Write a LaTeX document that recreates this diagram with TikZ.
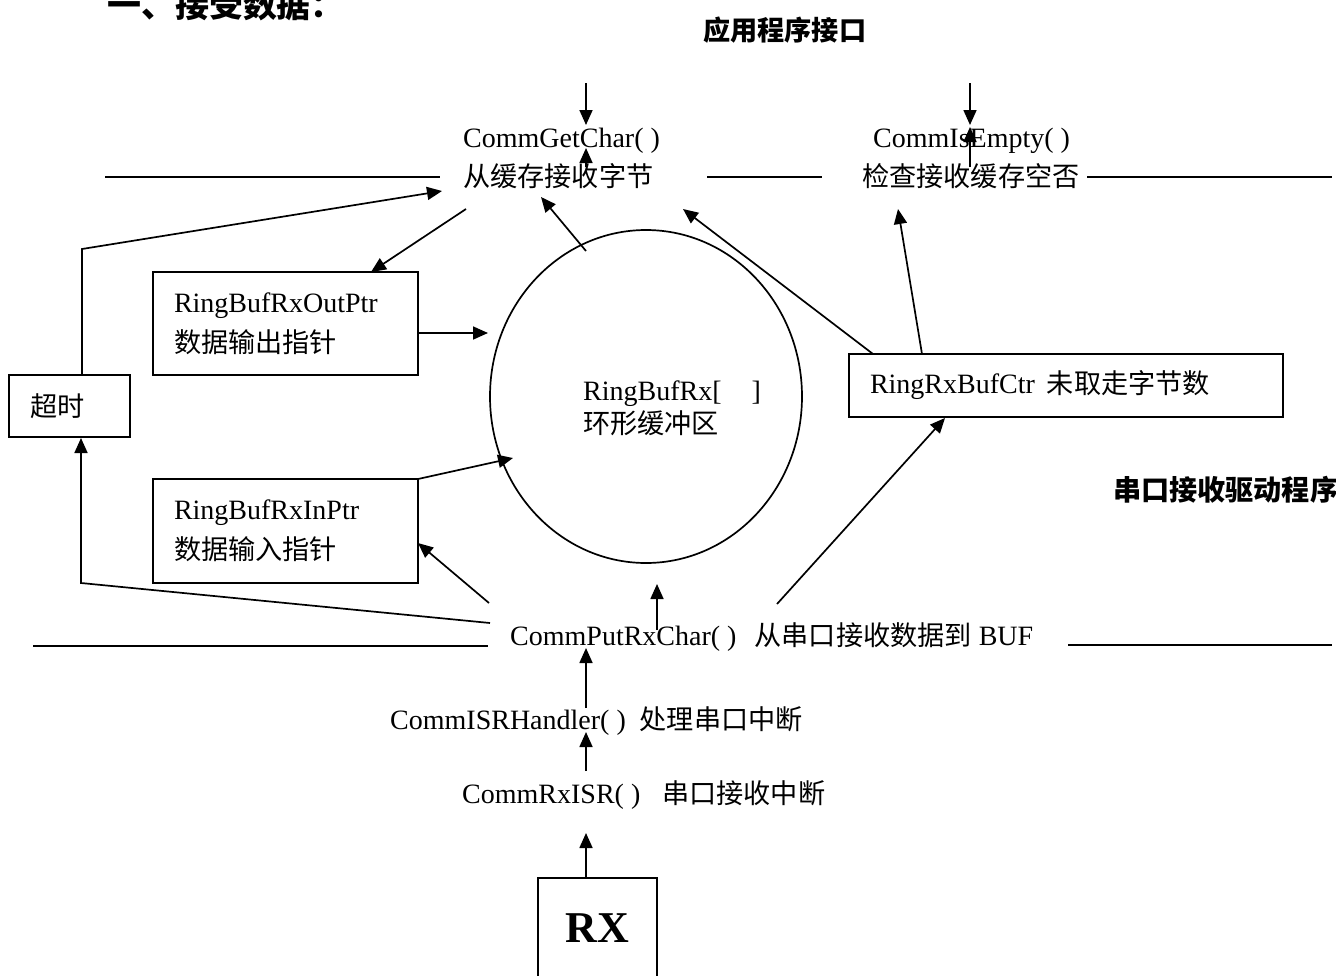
\documentclass[tikz,border=0pt]{standalone}
\usepackage{fontspec}
\setmainfont{Liberation Serif}
\newfontfamily\cjk[Scale=0.97]{Noto Sans CJK SC}
\usetikzlibrary{arrows.meta,shapes.geometric}
\begin{document}
\begin{tikzpicture}[x=1pt,y=-1pt,
  basefont/.style={font=\fontsize{28}{34}\selectfont, inner sep=0pt},
  txt/.style={basefont, anchor=base west},
  box/.style={draw, line width=1.8pt, rectangle, align=left,
              font=\fontsize{28}{40}\selectfont, inner ysep=0pt, inner xsep=21pt},
  arr/.style={line width=1.7pt, -{Triangle[length=15pt,width=13pt]}},
  ln/.style={line width=1.7pt}]
\clip (0,0) rectangle (1336,975);

% headings
\node[txt, font=\fontsize{35}{40}\selectfont\cjk\bfseries] (title) at (107,17) {一、接受数据：};
\node[txt, font=\fontsize{28}{33}\selectfont\cjk\bfseries] (api) at (703,40) {应用程序接口};
\node[txt, font=\fontsize{29}{34}\selectfont\cjk\bfseries] (drv) at (1113,500) {串口接收驱动程序};

% top functions
\node[txt] (gc1) at (463,147) {CommGetChar( )};
\node[txt] (gc2) at (463,186) {\cjk 从缓存接收字节};
\node[txt] (ie1) at (873,147) {CommIsEmpty( )};
\node[txt] (ie2) at (862,186) {\cjk 检查接收缓存空否};

% bottom functions
\node[txt] (put) at (510,645) {CommPutRxChar( )\hspace{18pt}{\cjk 从串口接收数据到}\hspace{7pt}BUF};
\node[txt] (isr) at (390,729) {CommISRHandler( )\hspace{14pt}{\cjk 处理串口中断}};
\node[txt] (rxisr) at (462,803) {CommRxISR( )\hspace{22pt}{\cjk 串口接收中断}};

% boxes
\node[box, text width=223pt, minimum height=103pt] (outp) at (285.5,323.5) {RingBufRxOutPtr\\{\cjk 数据输出指针}};
\node[box, text width=223pt, minimum height=104pt] (inp) at (285.5,531) {RingBufRxInPtr\\{\cjk 数据输入指针}};
\node[box, text width=79pt, minimum height=62pt] (tmo) at (69.5,406) {\cjk 超时};
\node[box, text width=392pt, minimum height=63pt] (ctr) at (1066,385.5) {RingRxBufCtr\hspace{12pt}{\cjk 未取走字节数}};
\node[draw, line width=1.8pt, rectangle, minimum width=119pt, minimum height=100pt, inner sep=0pt,
      font=\fontsize{44}{50}\selectfont\bfseries] (rx) at (597.5,928) {RX};

% ring buffer
\node[draw, ellipse, line width=1.7pt, minimum width=312pt, minimum height=333pt, inner sep=0pt] (buf) at (646,396.5) {};
\node[basefont, anchor=west, align=left, font=\fontsize{28}{33}\selectfont] (buftxt) at (583,408) {RingBufRx[\hspace{30pt}]\\{\cjk 环形缓冲区}};

% separator lines
\coordinate (s1a) at (105,177);  \coordinate (s1b) at (440,177);
\coordinate (s2a) at (707,177);  \coordinate (s2b) at (822,177);
\coordinate (s3a) at (1087,177); \coordinate (s3b) at (1332,177);
\coordinate (s4a) at (33,646);   \coordinate (s4b) at (488,646);
\coordinate (s5a) at (1068,645); \coordinate (s5b) at (1332,645);
\draw[ln] (s1a) -- (s1b);
\draw[ln] (s2a) -- (s2b);
\draw[ln] (s3a) -- (s3b);
\draw[ln] (s4a) -- (s4b);
\draw[ln] (s5a) -- (s5b);

% API arrows
\coordinate (gcA) at (586,83);  \coordinate (gcB) at (586,125);
\coordinate (gcC) at (586,167); \coordinate (gcD) at (586,148);
\coordinate (ieA) at (970,83);  \coordinate (ieB) at (970,125);
\coordinate (ieC) at (970,167); \coordinate (ieD) at (970,127);
\draw[arr] (gcA) -- (gcB);
\draw[arr] (gcC) -- (gcD);
\draw[arr] (ieA) -- (ieB);
\draw[arr] (ieC) -- (ieD);

% timeout to CommGetChar
\coordinate (tmoT) at (82,375); \coordinate (tmoBend) at (82,249); \coordinate (gcL) at (442,191);
\draw[arr] (tmoT) -- (tmoBend) -- (gcL);

% CommGetChar to OutPtr
\coordinate (gcOut) at (466,209); \coordinate (outT) at (371,272);
\draw[arr] (gcOut) -- (outT);

% buffer to CommGetChar
\coordinate (bufT) at (586,251); \coordinate (gcIn) at (541,197);
\draw[arr] (bufT) -- (gcIn);

% OutPtr to buffer
\coordinate (outE) at (418,333); \coordinate (bufL) at (488,333);
\draw[arr] (outE) -- (bufL);

% counter to CommGetChar / CommIsEmpty
\coordinate (ctrA) at (873,354); \coordinate (gcR) at (683,209);
\coordinate (ctrB) at (922,354); \coordinate (ieIn) at (898,209);
\draw[arr] (ctrA) -- (gcR);
\draw[arr] (ctrB) -- (ieIn);

% InPtr to buffer
\coordinate (inpNE) at (418,479); \coordinate (bufLL) at (513,458);
\draw[arr] (inpNE) -- (bufLL);

% CommPutRxChar to InPtr
\coordinate (putA) at (489,603); \coordinate (inpE) at (418,543);
\draw[arr] (putA) -- (inpE);

% CommPutRxChar to timeout
\coordinate (putB) at (490,623); \coordinate (tmoBend2) at (81,583); \coordinate (tmoB) at (81,438);
\draw[arr] (putB) -- (tmoBend2) -- (tmoB);

% CommPutRxChar to buffer
\coordinate (putC) at (657,630); \coordinate (bufB) at (657,584);
\draw[arr] (putC) -- (bufB);

% CommPutRxChar to counter
\coordinate (putD) at (777,604); \coordinate (ctrB2) at (945,418);
\draw[arr] (putD) -- (ctrB2);

% driver chain
\coordinate (isrT) at (586,708); \coordinate (putBot) at (586,648);
\coordinate (rxisrT) at (586,771); \coordinate (isrBot) at (586,732);
\coordinate (rxT) at (586,878); \coordinate (rxisrBot) at (586,833);
\draw[arr] (isrT) -- (putBot);
\draw[arr] (rxisrT) -- (isrBot);
\draw[arr] (rxT) -- (rxisrBot);
\end{tikzpicture}
\end{document}
